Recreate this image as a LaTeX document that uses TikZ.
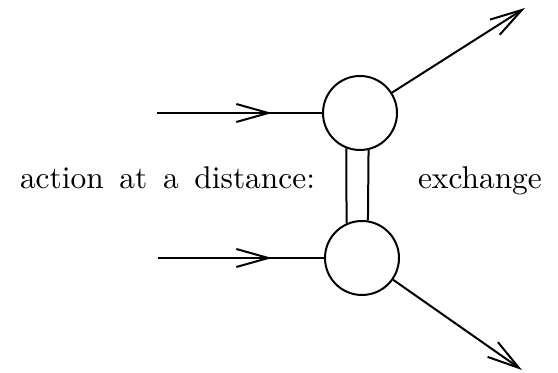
\documentclass[tikz,border=0pt]{standalone}
\usetikzlibrary{arrows.meta}
\begin{document}
\begin{tikzpicture}[x=0.5pt,y=-0.5pt,line width=1pt,
  circ/.style={circle,draw,minimum size=37pt,inner sep=0pt},
  barb/.style={-{Straight Barb[length=16pt,width=9pt,line width=1pt]}},
  lbl/.style={font=\fontsize{10}{12}\selectfont,inner sep=0pt}]
\useasboundingbox (0,0) rectangle (558,373);
\node[circ] (t) at (360,113) {};
\node[circ] (b) at (362,258) {};
\coordinate (ta) at (157,113);
\coordinate (tm) at (272,113);
\coordinate (ba) at (158,258);
\coordinate (bm) at (272,258);
\coordinate (te) at (525,8);
\coordinate (be) at (522,370);
\draw (ta) -- (t.west);
\draw[barb] (ta) -- (tm);
\draw (ba) -- (b.west);
\draw[barb] (ba) -- (bm);
\draw[barb] (t) -- (te);
\draw[barb] (b) -- (be);
\draw (t.249) -- (b.114);
\draw (t.283) -- (b.81);
\node[lbl,anchor=base west] (l) at (19,189)
  {\scalebox{1.57}{action\hspace{5pt}at\hspace{5pt}a\hspace{5pt}distance:}};
\node[lbl,anchor=base west] (r) at (417,189) {\scalebox{1.57}{exchange}};
\end{tikzpicture}
\end{document}
